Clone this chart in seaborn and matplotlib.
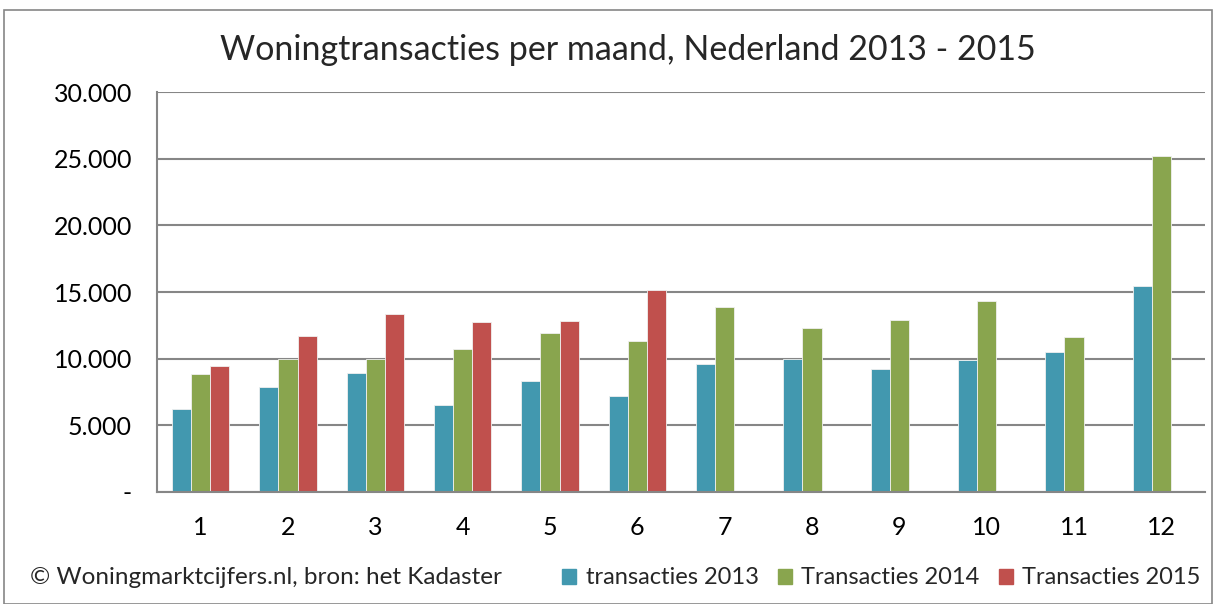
import numpy as np
import pandas as pd
import matplotlib
matplotlib.use("Agg")
import matplotlib.pyplot as plt
import seaborn as sns
from matplotlib.patches import Rectangle
from matplotlib.ticker import FuncFormatter

# data per maand
maanden = [1, 2, 3, 4, 5, 6, 7, 8, 9, 10, 11, 12]
trans_2013 = [6250, 7850, 8900, 6500, 8300, 7175, 9625, 9950, 9225, 9900, 10520, 15430]
trans_2014 = [8850, 10000, 10000, 10750, 11950, 11300, 13900, 12300, 12915, 14310, 11640, 25230]
trans_2015 = [9425, 11675, 13375, 12725, 12800, 15150, np.nan, np.nan, np.nan, np.nan, np.nan, np.nan]
reeksen = ["transacties 2013", "Transacties 2014", "Transacties 2015"]
kleuren = ["#4298AF", "#89A54E", "#C0504D"]

df = pd.DataFrame({
    "maand": maanden * 3,
    "reeks": [reeksen[0]] * 12 + [reeksen[1]] * 12 + [reeksen[2]] * 12,
    "aantal": trans_2013 + trans_2014 + trans_2015,
})

sns.set_style("white")
plt.rcParams["font.family"] = ["Lato", "DejaVu Sans"]

fig = plt.figure(figsize=(12.16, 6.04), dpi=100)
ax = fig.add_axes([157 / 1216, 1 - 492 / 604, 1048 / 1216, 400 / 604])

sns.barplot(data=df, x="maand", y="aantal", hue="reeks", palette=kleuren, saturation=1,
            width=0.66, edgecolor="#F0F0F0", linewidth=0.6, ax=ax, legend=False)

ax.set_ylim(0, 30000)
ax.set_yticks(range(0, 30001, 5000))
ax.yaxis.set_major_formatter(FuncFormatter(lambda v, p: "-" if v == 0 else f"{int(v):,}".replace(",", ".")))
ax.grid(axis="y", color="#868686", linewidth=1.5)
ax.set_axisbelow(True)
for kant in ["top", "right"]:
    ax.spines[kant].set_visible(False)
for kant in ["left", "bottom"]:
    ax.spines[kant].set_color("#868686")
    ax.spines[kant].set_linewidth(1.5)
ax.tick_params(axis="both", length=0, labelsize=18, colors="black")
ax.tick_params(axis="y", pad=18)
ax.tick_params(axis="x", pad=17)
ax.set_xlabel("")
ax.set_ylabel("")

fig.text(628 / 1216, 1 - 50 / 604, "Woningtransacties per maand, Nederland 2013 - 2015",
         ha="center", va="center", fontsize=24.5)
fig.text(30 / 1216, 1 - 578 / 604, "© Woningmarktcijfers.nl, bron: het Kadaster",
         ha="left", va="center", fontsize=17.5)

handles = [Rectangle((0, 0), 1, 1, color=k) for k in kleuren]
fig.legend(handles, reeksen, loc="center right", bbox_to_anchor=(1210 / 1216, 1 - 578 / 604),
           ncol=3, frameon=False, fontsize=17, handlelength=0.6, handleheight=0.6,
           handletextpad=0.4, columnspacing=0.8, borderaxespad=0)

# rand rond de figuur
fig.patches.append(Rectangle((4 / 1216, 0), 1208 / 1216, 594 / 604, transform=fig.transFigure,
                             fill=False, edgecolor="#868686", linewidth=1.2))

plt.savefig("out.png", dpi=100)
